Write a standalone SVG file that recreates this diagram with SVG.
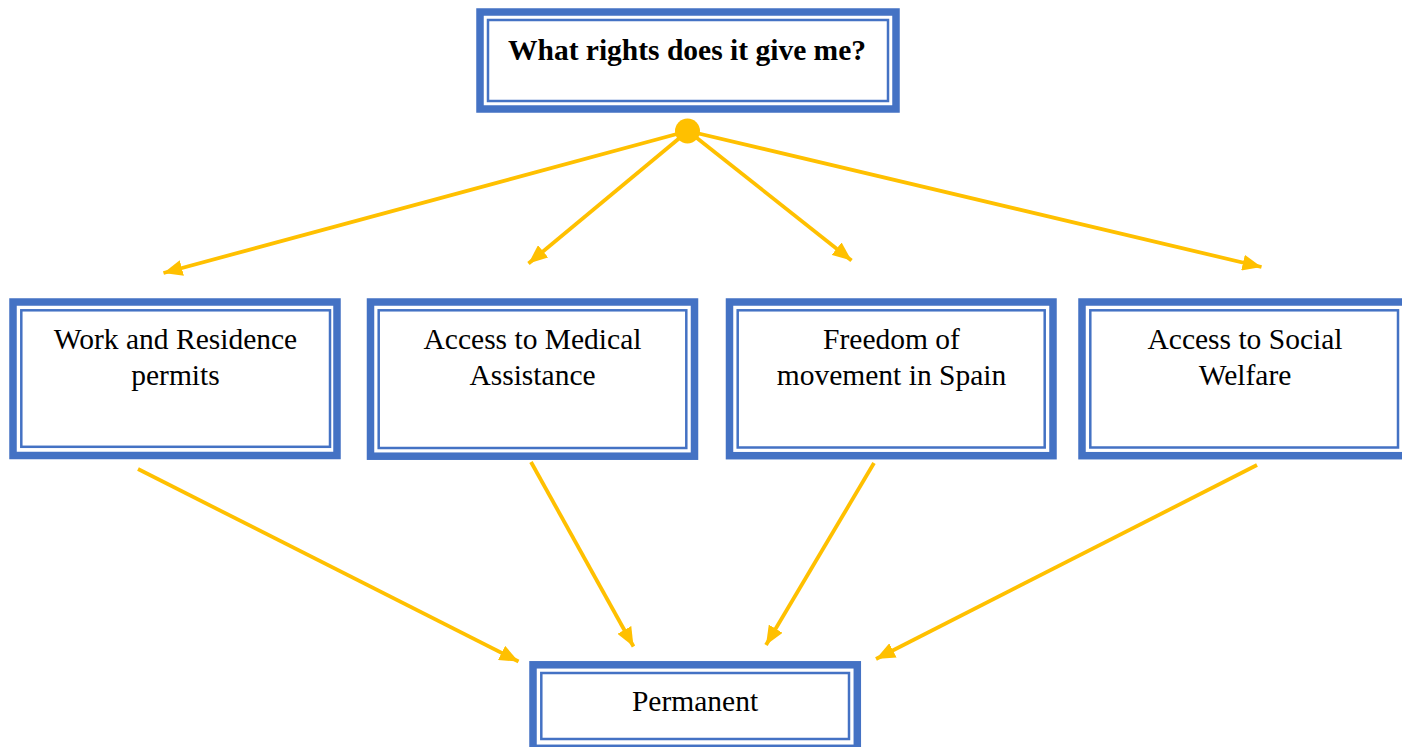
<svg xmlns="http://www.w3.org/2000/svg" width="1402" height="747" viewBox="0 0 1402 747">
<style>
.outer{fill:#fff;stroke:#4472C4;stroke-width:7.5}
.inner{fill:none;stroke:#4472C4;stroke-width:2.5}
.lbl{font-family:"Liberation Serif","Times New Roman",serif;font-size:29.5px;fill:#000;text-anchor:middle}
.bold{font-weight:bold}
.conn{stroke:#FFC000;stroke-width:3.8;fill:none}
</style>
<defs>
<marker id="ah" markerUnits="userSpaceOnUse" markerWidth="20" markerHeight="16" refX="19" refY="8" orient="auto">
<path d="M0,0 L19,8 L0,16 z" fill="#FFC000"/>
</marker>
</defs>
<g id="title">
<rect class="outer" x="480" y="12" width="416" height="97"/>
<rect class="inner" x="488" y="20" width="400" height="81"/>
<text class="lbl bold" x="687" y="60">What rights does it give me?</text>
</g>
<g id="work">
<rect class="outer" x="13" y="302" width="324" height="153.5"/>
<rect class="inner" x="21.3" y="310.3" width="308.7" height="136.5"/>
<text class="lbl" x="175.5" y="349">Work and Residence</text>
<text class="lbl" x="175.5" y="385">permits</text>
</g>
<g id="medical">
<rect class="outer" x="370.5" y="302" width="324" height="154.2"/>
<rect class="inner" x="378.7" y="310.3" width="307.6" height="137.7"/>
<text class="lbl" x="532.5" y="349">Access to Medical</text>
<text class="lbl" x="532.5" y="385">Assistance</text>
</g>
<g id="freedom">
<rect class="outer" x="729.5" y="302" width="323.5" height="153.7"/>
<rect class="inner" x="737.7" y="310.3" width="307" height="137.2"/>
<text class="lbl" x="891.5" y="349">Freedom of</text>
<text class="lbl" x="891.5" y="385">movement in Spain</text>
</g>
<g id="welfare">
<rect class="outer" x="1082" y="302" width="324" height="153.7"/>
<rect class="inner" x="1090.3" y="310.3" width="307.7" height="137.2"/>
<text class="lbl" x="1245" y="349">Access to Social</text>
<text class="lbl" x="1245" y="385">Welfare</text>
</g>
<g id="permanent">
<rect class="outer" x="533" y="664.8" width="324.3" height="83.5"/>
<rect class="inner" x="541.3" y="673" width="307.7" height="66"/>
<text class="lbl" x="695" y="711">Permanent</text>
</g>
<g id="connectors">
<line class="conn" x1="688" y1="131" x2="163.5" y2="273" marker-end="url(#ah)"/>
<line class="conn" x1="688" y1="131" x2="528.5" y2="263.5" marker-end="url(#ah)"/>
<line class="conn" x1="688" y1="131" x2="851.5" y2="260.5" marker-end="url(#ah)"/>
<line class="conn" x1="688" y1="131" x2="1261.5" y2="267" marker-end="url(#ah)"/>
<circle cx="687.5" cy="131" r="12.5" fill="#FFC000"/>
<line class="conn" x1="138" y1="469" x2="518.5" y2="661.5" marker-end="url(#ah)"/>
<line class="conn" x1="531" y1="462" x2="633.5" y2="646.5" marker-end="url(#ah)"/>
<line class="conn" x1="874" y1="463" x2="766" y2="645" marker-end="url(#ah)"/>
<line class="conn" x1="1257" y1="465" x2="876" y2="659" marker-end="url(#ah)"/>
</g>
</svg>
